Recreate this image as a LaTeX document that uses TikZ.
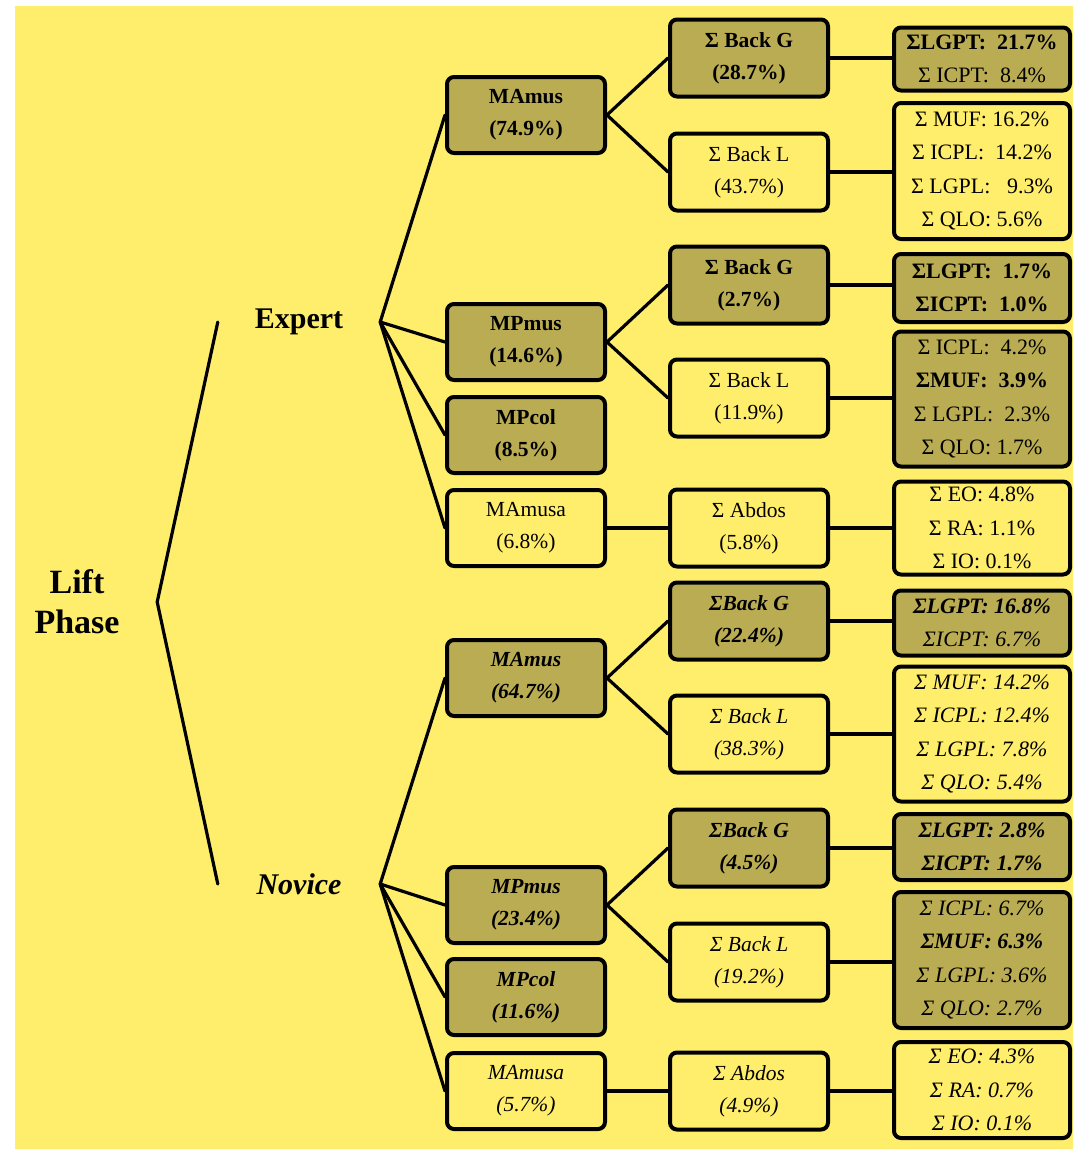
\documentclass[tikz,border=0pt]{standalone}
\usepackage{fontspec}
\setmainfont{Liberation Serif}
\definecolor{bgyellow}{RGB}{255,238,108}
\definecolor{boxolive}{RGB}{186,172,82}
\tikzset{
  box/.style={draw=black, line width=4pt, rounded corners=7pt, align=center,
    inner sep=0pt, font=\fontsize{21.5}{32}\selectfont},
  darkbox/.style={box, fill=boxolive},
  lightbox/.style={box, fill=bgyellow},
  colone/.style={minimum width=158pt, minimum height=76pt},
  coltwo/.style={minimum width=158pt, minimum height=77pt},
  colthree/.style={minimum width=176pt, font=\fontsize{22}{33.5}\selectfont},
  conn/.style={line width=3.2pt, line cap=round},
  group/.style={inner sep=0pt, minimum width=162pt, font=\fontsize{30}{34}\selectfont\bfseries}
}
\begin{document}
\begin{tikzpicture}[x=1pt, y=-1pt]
\useasboundingbox (0,0) rectangle (1073,1149);
\fill[white] (0,0) rectangle (1073,1149);
\fill[bgyellow] (15,6) rectangle (1073,1149);

% root and the two groups
\node[inner sep=0pt, minimum width=160pt, align=center,
      font=\fontsize{34}{40}\selectfont\bfseries] (lift) at (77,602) {Lift\\Phase};
\node[group] (expert) at (299,322) {Expert};
\node[group, font=\fontsize{30}{34}\selectfont\bfseries\itshape] (novice) at (299,884) {Novice};

% ---------- Expert ----------
\node[darkbox, colone, font=\fontsize{21.5}{32}\selectfont\bfseries] (e1) at (526,115) {MAmus\\(74.9\%)};
\node[darkbox, colone, font=\fontsize{21.5}{32}\selectfont\bfseries] (e2) at (526,342) {MPmus\\(14.6\%)};
\node[darkbox, colone, font=\fontsize{21.5}{32}\selectfont\bfseries] (e3) at (526,435) {MPcol\\(8.5\%)};
\node[lightbox, colone] (e4) at (526,528) {MAmusa\\(6.8\%)};

\node[darkbox, coltwo, font=\fontsize{21.5}{32}\selectfont\bfseries] (e11) at (749,58) {Σ Back G\\(28.7\%)};
\node[lightbox, coltwo] (e12) at (749,172) {Σ Back L\\(43.7\%)};
\node[darkbox, coltwo, font=\fontsize{21.5}{32}\selectfont\bfseries] (e21) at (749,285) {Σ Back G\\(2.7\%)};
\node[lightbox, coltwo] (e22) at (749,398) {Σ Back L\\(11.9\%)};
\node[lightbox, coltwo] (e41) at (749,528) {Σ Abdos\\(5.8\%)};

\node[darkbox, colthree, minimum height=63pt] (e111) at (982,59)
  {{\bfseries ΣLGPT:\ \ 21.7\%}\\Σ ICPT:\ \ 8.4\%};
\node[lightbox, colthree, minimum height=136pt] (e121) at (982,171)
  {Σ MUF:\ 16.2\%\\Σ ICPL:\ \ 14.2\%\\Σ LGPL:\ \ \ 9.3\%\\Σ QLO:\ 5.6\%};
\node[darkbox, colthree, minimum height=68pt] (e211) at (982,288)
  {{\bfseries ΣLGPT:\ \ 1.7\%}\\{\bfseries ΣICPT:\ \ 1.0\%}};
\node[darkbox, colthree, minimum height=135pt] (e221) at (982,399)
  {Σ ICPL:\ \ 4.2\%\\{\bfseries ΣMUF:\ \ 3.9\%}\\Σ LGPL:\ \ 2.3\%\\Σ QLO:\ 1.7\%};
\node[lightbox, colthree, minimum height=93pt] (e411) at (982,528)
  {Σ EO:\ 4.8\%\\Σ RA:\ 1.1\%\\Σ IO:\ 0.1\%};

% ---------- Novice ----------
\node[darkbox, colone, font=\fontsize{21.5}{32}\selectfont\bfseries\itshape] (n1) at (526,678) {MAmus\\(64.7\%)};
\node[darkbox, colone, font=\fontsize{21.5}{32}\selectfont\bfseries\itshape] (n2) at (526,905) {MPmus\\(23.4\%)};
\node[darkbox, colone, font=\fontsize{21.5}{32}\selectfont\bfseries\itshape] (n3) at (526,997) {MPcol\\(11.6\%)};
\node[lightbox, colone, font=\fontsize{21.5}{32}\selectfont\itshape] (n4) at (526,1091) {MAmusa\\(5.7\%)};

\node[darkbox, coltwo, font=\fontsize{21.5}{32}\selectfont\bfseries\itshape] (n11) at (749,621) {ΣBack G\\(22.4\%)};
\node[lightbox, coltwo, font=\fontsize{21.5}{32}\selectfont\itshape] (n12) at (749,734) {Σ Back L\\(38.3\%)};
\node[darkbox, coltwo, font=\fontsize{21.5}{32}\selectfont\bfseries\itshape] (n21) at (749,848) {ΣBack G\\(4.5\%)};
\node[lightbox, coltwo, font=\fontsize{21.5}{32}\selectfont\itshape] (n22) at (749,962) {Σ Back L\\(19.2\%)};
\node[lightbox, coltwo, font=\fontsize{21.5}{32}\selectfont\itshape] (n41) at (749,1091) {Σ Abdos\\(4.9\%)};

\node[darkbox, colthree, minimum height=65pt, font=\fontsize{22}{33.5}\selectfont\itshape] (n111) at (982,623)
  {{\bfseries ΣLGPT: 16.8\%}\\ΣICPT:\ 6.7\%};
\node[lightbox, colthree, minimum height=135pt, font=\fontsize{22}{33.5}\selectfont\itshape] (n121) at (982,734)
  {Σ MUF: 14.2\%\\Σ ICPL: 12.4\%\\Σ LGPL: 7.8\%\\Σ QLO: 5.4\%};
\node[darkbox, colthree, minimum height=66pt, font=\fontsize{22}{33.5}\selectfont\itshape] (n211) at (982,847)
  {{\bfseries ΣLGPT: 2.8\%}\\{\bfseries ΣICPT: 1.7\%}};
\node[darkbox, colthree, minimum height=136pt, font=\fontsize{22}{33.5}\selectfont\itshape] (n221) at (982,960)
  {Σ ICPL:\ 6.7\%\\{\bfseries ΣMUF: 6.3\%}\\Σ LGPL:\ 3.6\%\\Σ QLO:\ 2.7\%};
\node[lightbox, colthree, minimum height=96pt, font=\fontsize{22}{33.5}\selectfont\itshape] (n411) at (982,1090)
  {Σ EO: 4.3\%\\Σ RA: 0.7\%\\Σ IO: 0.1\%};

% ---------- connectors ----------
\draw[conn] (expert.west) -- (lift.east) -- (novice.west);

\foreach \t in {e1,e2,e3,e4} \draw[conn] (expert.east) -- (\t.west);
\foreach \t in {n1,n2,n3,n4} \draw[conn] (novice.east) -- (\t.west);

\draw[conn] (e1.east) -- (e11.west);
\draw[conn] (e1.east) -- (e12.west);
\draw[conn] (e2.east) -- (e21.west);
\draw[conn] (e2.east) -- (e22.west);
\draw[conn] (e4.east) -- (e41.west);
\draw[conn] (n1.east) -- (n11.west);
\draw[conn] (n1.east) -- (n12.west);
\draw[conn] (n2.east) -- (n21.west);
\draw[conn] (n2.east) -- (n22.west);
\draw[conn] (n4.east) -- (n41.west);

\foreach \s/\t in {e11/e111,e12/e121,e21/e211,e22/e221,e41/e411,
                   n11/n111,n12/n121,n21/n211,n22/n221,n41/n411}
  \draw[conn] (\s.east) -- (\s.east -| \t.west);
\end{tikzpicture}
\end{document}
